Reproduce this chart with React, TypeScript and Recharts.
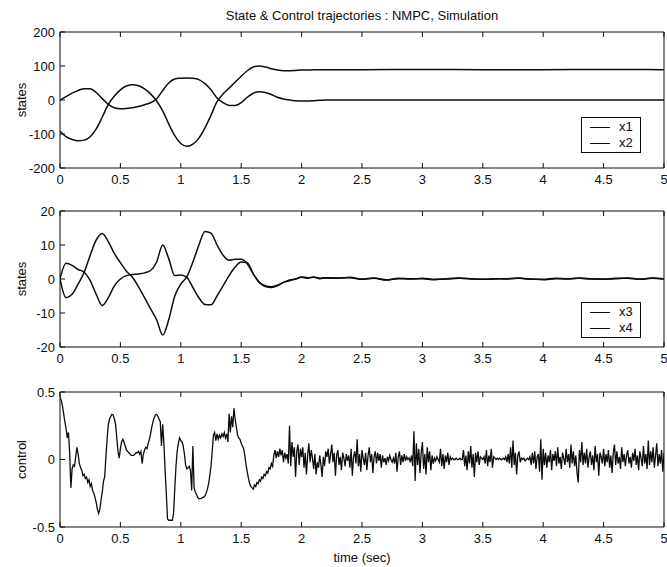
import { Label, Legend, Line, LineChart, XAxis, YAxis } from "recharts";

const FONT = "'Liberation Sans', Arial, Helvetica, sans-serif";
const INK = "#0d0d0d";

const title = "State & Control trajectories : NMPC, Simulation";
const timeTicks = [0, 0.5, 1, 1.5, 2, 2.5, 3, 3.5, 4, 4.5, 5];

// top panel: x1 / x2
const posTicks = [-200, -100, 0, 100, 200];
const posTime = [
  0, 0.05, 0.1, 0.15, 0.2, 0.25, 0.3, 0.35, 0.4, 0.45, 0.5, 0.55, 0.6, 0.65, 0.7, 0.75, 0.8, 0.85, 0.9, 0.95,
  1, 1.05, 1.1, 1.15, 1.2, 1.25, 1.3, 1.35, 1.4, 1.45, 1.5, 1.55, 1.6, 1.65, 1.7, 1.75, 1.8, 1.85, 1.9, 1.95,
  2, 2.05, 2.1, 2.15, 2.2, 2.25, 2.3, 2.35, 2.4, 2.45, 2.5, 3, 3.5, 4, 4.5, 5
];
const x1Vals = [
  0, 10, 20, 28, 33, 33, 22, 4, -13, -23, -26, -25, -23, -19, -14, -8, 3, 28, 50, 62,
  64, 65, 64, 60, 48, 30, 6, -8, -16, -16, -8, 8, 20, 24, 22, 16, 8, 3, 0, -2,
  -3, -3, -2, -1, 0, 0, 0, 0, 0, 0, 0, 0, 0, 0, 0, 0
];
const x2Vals = [
  -92, -108, -116, -120, -118, -108, -85, -50, -13, 12, 30, 41, 45, 42, 33, 18, -3, -32, -70, -105,
  -128, -136, -130, -112, -82, -45, -5, 18, 35, 52, 70, 86, 97, 100, 97, 92, 88, 86, 86, 87,
  88, 88, 89, 89, 89, 89, 89, 89, 89, 89, 89, 90, 89, 89, 90, 89
];

// middle panel: x3 / x4
const velTicks = [-20, -10, 0, 10, 20];
const velTime = [
  0, 0.05, 0.1, 0.15, 0.2, 0.25, 0.3, 0.35, 0.4, 0.45, 0.5, 0.55, 0.6, 0.65, 0.7, 0.75, 0.8, 0.85, 0.9, 0.95,
  1, 1.05, 1.1, 1.15, 1.2, 1.25, 1.3, 1.35, 1.4, 1.45, 1.5, 1.55, 1.6, 1.65, 1.7, 1.75, 1.8, 1.85, 1.9, 1.95,
  2, 2.05, 2.1, 2.15, 2.2, 2.3, 2.4, 2.5, 2.6, 2.7, 2.8, 2.9, 3, 3.1, 3.2, 3.3, 3.4, 3.5, 3.6, 3.7,
  3.8, 3.9, 4, 4.1, 4.2, 4.3, 4.4, 4.5, 4.6, 4.7, 4.8, 4.9, 5
];
const x3Vals = [
  0, 4.6, 4, 2.8, 2, -0.5, -4.5, -7.8, -5.5, -2, 0, 1, 1.3, 1.5, 1.8, 2.5, 5, 10, 6, 1,
  1.2, 0.5, -2.5, -5.5, -7.5, -7.6, -5, -2, 1, 3.5, 5, 4.8, 1.5, -1, -2.2, -2.5, -2, -1, -0.5, 0,
  0.5, 0.2, 0.6, 0.1, 0.3, 0.2, 0.5, 0, 0.3, -0.2, 0.1, 0, 0.2, -0.1, 0, 0.2, 0.1, -0.1, 0, 0.1,
  0.2, 0, -0.2, 0.1, 0, 0.3, 0.1, -0.1, 0.1, 0.3, 0, 0.2, 0
];
const x4Vals = [
  0, -5.5, -4.5, -1.5, 2, 7, 11.5, 13.4, 11, 7.5, 4.8, 2.3, 0.5, -2.3, -5.5, -8.8, -12, -16.5, -12, -5,
  -1.5, 0.7, 5, 10, 14, 13.5, 10, 7, 5.5, 5.8, 5.8, 4.5, 1.5, -1, -2, -2.3, -1.8, -1, -0.3, 0,
  0.6, 0.4, 0.5, 0.2, 0.4, 0.3, 0.4, -0.1, 0.2, -0.3, 0.2, 0.1, 0.1, -0.2, 0.1, 0.3, 0, -0.1, 0.1, 0,
  0.3, -0.1, -0.1, 0.2, 0.1, 0.2, 0, 0, 0.2, 0.2, -0.1, 0.3, 0.1
];

// bottom panel: control, sampled every 0.01 s (one row = 0.1 s)
const ctrlTicks = [-0.5, 0, 0.5];
const ctrlStep = 0.01;
const ctrlVals = [
  0.46, 0.44, 0.4, 0.34, 0.28, 0.23, 0.16, 0.2, 0.05, -0.21,
  -0.07, -0.04, -0.05, 0.02, 0.09, 0.04, -0.03, -0.06, -0.08, -0.12,
  -0.11, -0.14, -0.13, -0.17, -0.15, -0.2, -0.18, -0.23, -0.25, -0.28,
  -0.32, -0.37, -0.4, -0.37, -0.3, -0.24, -0.16, -0.13, 0.02, 0.15,
  0.26, 0.3, 0.32, 0.335, 0.33, 0.3, 0.26, 0.16, 0.06, 0.01,
  0.08, 0.13, 0.15, 0.13, 0.1, 0.07, 0.06, 0.05, 0.04, 0.03,
  0.03, 0.03, 0.04, 0.05, 0.05, 0.06, 0.04, 0.06, -0.03, 0.04,
  0.07, 0.09, 0.08, 0.12, 0.15, 0.19, 0.24, 0.28, 0.31, 0.33,
  0.335, 0.32, 0.3, 0.28, 0.1, 0.26, 0.12, -0.08, -0.25, -0.44,
  -0.45, -0.45, -0.45, -0.45, -0.4, -0.22, -0.05, 0.06, 0.12, 0.16,
  0.14, 0.13, 0.1, 0.04, -0.04, -0.07, -0.06, -0.05, -0.08, -0.23,
  0.1, -0.21, -0.24, -0.26, -0.28, -0.29, -0.29, -0.29, -0.28, -0.28,
  -0.27, -0.25, -0.22, -0.18, -0.12, -0.05, 0.06, 0.18, 0.2, 0.14,
  0.19, 0.15, 0.18, 0.16, 0.19, 0.17, 0.2, 0.16, 0.19, 0.13,
  0.34, 0.2, 0.32, 0.24, 0.38, 0.3, 0.24, 0.18, 0.16, 0.15,
  0.12, 0.1, 0.08, 0.03, -0.04, -0.09, -0.14, -0.18, -0.2, -0.21,
  -0.22, -0.19, -0.2, -0.17, -0.18, -0.15, -0.16, -0.13, -0.14, -0.11,
  -0.12, -0.09, -0.1, -0.06, -0.07, -0.03, -0.05, 0.03, 0.07, 0.01,
  0.06, 0.02, 0.08, 0.03, 0.07, -0.02, 0.05, 0.01, 0.04, -0.03,
  0.25, -0.05, 0.13, 0.02, 0.09, -0.13, 0.06, 0.11, -0.04, 0.08,
  0.02, 0.09, -0.06, 0.05, -0.11, 0.03, 0.12, -0.02, 0.07, 0.01,
  -0.07, 0.04, -0.11, -0.02, -0.06, 0.03, -0.04, -0.13, 0.02, -0.05,
  0.06, 0.02, 0.08, -0.03, 0.04, 0.11, -0.02, 0.05, -0.12, 0.03,
  0.07, -0.04, 0.02, -0.08, 0.05, 0.01, -0.05, 0.04, -0.01, 0.03,
  -0.06, 0.08, -0.12, 0.02, 0.06, -0.03, 0.15, -0.05, 0.04, -0.09,
  0.07, 0.01, -0.04, 0.05, -0.08, 0.03, 0.09, -0.02, 0.04, -0.1,
  0.02, 0.06, -0.03, 0.05, -0.01, 0.04, -0.06, 0.03, -0.02, 0.01,
  -0.04, 0.02, -0.01, 0.03, 0, -0.02, 0.01, -0.03, 0.05, -0.09,
  0.02, 0.06, -0.04, 0.03, -0.02, 0.04, -0.01, 0.02, 0, 0.01,
  -0.02, 0.03, -0.05, 0.21, -0.16, 0.12, -0.04, 0.08, -0.1, 0.05,
  0.13, -0.07, 0.04, -0.11, 0.09, -0.02, 0.06, -0.08, 0.03, -0.03,
  0.01, -0.01, 0.02, 0, -0.02, 0.08, -0.05, 0.04, -0.07, 0.03,
  -0.02, 0.05, -0.04, 0.02, 0, 0.01, 0, 0, 0.01, 0,
  0, 0.01, 0, 0, 0.07, -0.05, 0.03, -0.08, 0.06, -0.03,
  0.1, -0.06, 0.04, -0.13, 0.05, -0.02, 0.06, -0.04, 0.02, 0.01,
  0, 0.02, -0.03, 0.07, -0.05, 0.03, -0.02, 0.08, -0.06, 0.02,
  0.01, 0, 0.01, 0, 0.01, 0, 0, 0.01, 0, 0.02,
  -0.02, 0.04, -0.03, 0.09, -0.06, 0.14, -0.04, 0.05, -0.11, 0.03,
  0.06, -0.02, 0.01, 0, 0.01, -0.01, 0, 0.01, 0, 0.02,
  -0.04, 0.05, -0.03, 0.06, -0.07, 0.02, 0.04, -0.09, 0.15, -0.15,
  0.08, -0.04, 0.05, -0.06, 0.03, -0.02, 0.07, -0.08, 0.04, -0.01,
  0.06, -0.05, 0.09, -0.03, 0.02, -0.07, 0.05, 0.01, -0.04, 0.08,
  -0.02, 0.04, -0.06, 0.11, -0.03, 0.06, -0.05, 0.03, -0.1, -0.17,
  0.07, -0.02, 0.13, -0.04, 0.05, -0.03, 0.08, -0.06, 0.02, 0.06,
  -0.04, 0.03, -0.08, 0.1, -0.02, 0.04, -0.12, 0.05, 0.02, -0.03,
  0.08, -0.05, 0.04, -0.02, 0.07, -0.06, 0.03, -0.1, 0.05, 0.11,
  -0.04, 0.06, -0.03, 0.02, -0.07, 0.09, -0.02, 0.04, -0.05, 0.03,
  0.07, -0.03, 0.02, -0.06, 0.05, -0.01, 0.08, -0.04, 0.03, -0.08,
  0.06, 0.01, -0.05, 0.1, -0.03, 0.04, -0.07, 0.14, -0.04, 0.06,
  -0.02, 0.09, -0.06, 0.03, 0.12, -0.05, 0.04, -0.03, 0.07, -0.09,
  0.05
];

const posData = posTime.map((t, i) => ({ t, x1: x1Vals[i], x2: x2Vals[i] }));
const velData = velTime.map((t, i) => ({ t, x3: x3Vals[i], x4: x4Vals[i] }));
const ctrlData = ctrlVals.map((u, i) => ({ t: +(i * ctrlStep).toFixed(2), u }));

const textStyle = { fontSize: 13, fill: INK, fontFamily: FONT };

// MATLAB style ticks: drawn inward from the box
const bottomTick = (p: any) => (
  <g>
    <line x1={p.x} x2={p.x} y1={p.y} y2={p.y - 5} stroke={INK} />
    <text x={p.x} y={p.y + 16} textAnchor="middle" {...textStyle}>
      {p.payload.value}
    </text>
  </g>
);
const topTick = (p: any) => <line x1={p.x} x2={p.x} y1={p.y} y2={p.y + 5} stroke={INK} />;
const leftTick = (p: any) => (
  <g>
    <line x1={p.x} x2={p.x + 5} y1={p.y} y2={p.y} stroke={INK} />
    <text x={p.x - 5} y={p.y} dy={4.5} textAnchor="end" {...textStyle}>
      {p.payload.value}
    </text>
  </g>
);
const rightTick = (p: any) => <line x1={p.x} x2={p.x - 5} y1={p.y} y2={p.y} stroke={INK} />;

const legendBox = ({ payload }: any) => (
  <div
    style={{
      boxSizing: "border-box",
      width: 60,
      height: 36,
      border: `1px solid ${INK}`,
      background: "#fff",
      paddingTop: 1,
      fontFamily: FONT,
      fontSize: 13,
      color: INK
    }}
  >
    {(payload ?? []).map((entry: any) => (
      <div key={entry.value} style={{ display: "flex", alignItems: "center", height: 16, paddingLeft: 8 }}>
        <span style={{ width: 20, borderTop: `1px solid ${INK}`, marginRight: 9 }} />
        <span style={{ lineHeight: "16px" }}>{entry.value}</span>
      </div>
    ))}
  </div>
);

interface PanelProps {
  top: number;
  height: number;
  marginTop: number;
  marginBottom: number;
  data: Record<string, number>[];
  series: string[];
  yDomain: [number, number];
  yTicks: number[];
  yLabel: string;
  legendTop?: number;
  heading?: string;
  xLabel?: string;
  curve: "monotone" | "linear";
  strokeWidth: number;
}

function Panel(props: PanelProps) {
  const { top, height, marginTop, marginBottom, data, series, yDomain, yTicks, yLabel, legendTop, heading, xLabel, curve, strokeWidth } = props;
  return (
    <div style={{ position: "absolute", left: 0, top }}>
      <LineChart data={data} height={height} margin={{ bottom: marginBottom, left: 10, right: 2, top: marginTop }} width={667}>
        <XAxis
          allowDataOverflow
          axisLine={{ stroke: INK }}
          dataKey="t"
          domain={[0, 5]}
          height={20}
          interval={0}
          tick={bottomTick}
          tickLine={false}
          tickMargin={0}
          tickSize={0}
          ticks={timeTicks}
          type="number"
        >
          {xLabel && <Label offset={6} position="bottom" value={xLabel} {...textStyle} />}
        </XAxis>
        <XAxis
          axisLine={{ stroke: INK }}
          dataKey="t"
          domain={[0, 5]}
          height={1}
          interval={0}
          orientation="top"
          tick={topTick}
          tickLine={false}
          tickMargin={0}
          tickSize={0}
          ticks={timeTicks}
          type="number"
          xAxisId="top"
        >
          {heading && <Label offset={11} position="top" value={heading} {...textStyle} />}
        </XAxis>
        <YAxis
          allowDataOverflow
          axisLine={{ stroke: INK }}
          domain={yDomain}
          interval={0}
          tick={leftTick}
          tickLine={false}
          tickMargin={0}
          tickSize={0}
          ticks={yTicks}
          type="number"
          width={50}
        >
          <Label angle={-90} dx={-14} position="center" value={yLabel} {...textStyle} />
        </YAxis>
        <YAxis
          axisLine={{ stroke: INK }}
          domain={yDomain}
          interval={0}
          orientation="right"
          tick={rightTick}
          tickLine={false}
          tickMargin={0}
          tickSize={0}
          ticks={yTicks}
          type="number"
          width={1}
          yAxisId="right"
        />
        {series.map((key) => (
          <Line
            dataKey={key}
            dot={false}
            isAnimationActive={false}
            key={key}
            name={key}
            stroke={INK}
            strokeWidth={strokeWidth}
            type={curve}
          />
        ))}
        {legendTop !== undefined && (
          <Legend
            align="center"
            content={legendBox}
            layout="vertical"
            verticalAlign="middle"
            wrapperStyle={{ height: 36, left: 581, top: legendTop, width: 60 }}
          />
        )}
      </LineChart>
    </div>
  );
}

export default function App() {
  return (
    <div style={{ position: "absolute", left: 0, top: 0, width: 667, height: 567, background: "#fff", overflow: "hidden" }}>
      <Panel
        curve="monotone"
        data={posData}
        heading={title}
        height={190}
        legendTop={117}
        marginBottom={2}
        marginTop={31}
        series={["x1", "x2"]}
        strokeWidth={1.5}
        top={0}
        yDomain={[-200, 200]}
        yLabel="states"
        yTicks={posTicks}
      />
      <Panel
        curve="monotone"
        data={velData}
        height={180}
        legendTop={112}
        marginBottom={3}
        marginTop={20}
        series={["x3", "x4"]}
        strokeWidth={1.5}
        top={190}
        yDomain={[-20, 20]}
        yLabel="states"
        yTicks={velTicks}
      />
      <Panel
        curve="linear"
        data={ctrlData}
        height={197}
        marginBottom={20}
        marginTop={21}
        series={["u"]}
        strokeWidth={1.3}
        top={370}
        xLabel="time (sec)"
        yDomain={[-0.5, 0.5]}
        yLabel="control"
        yTicks={ctrlTicks}
      />
    </div>
  );
}
